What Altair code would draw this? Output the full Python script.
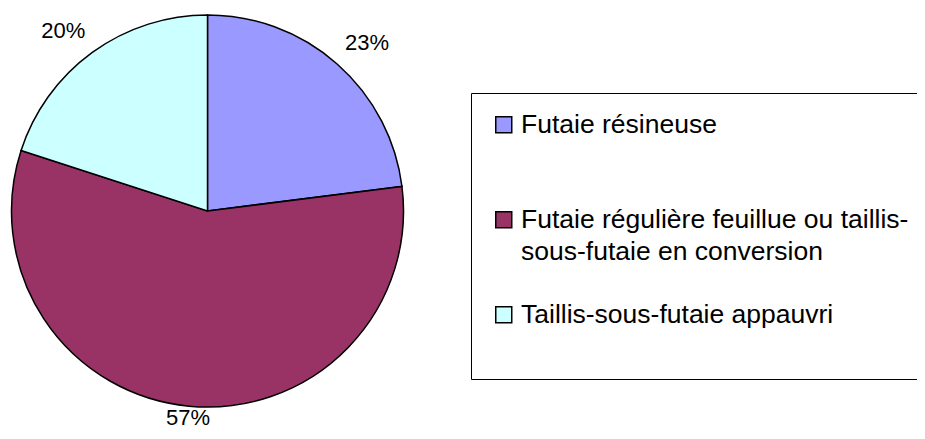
import altair as alt
import pandas as pd

categories = [
    "Futaie résineuse",
    "Futaie régulière feuillue ou taillis-sous-futaie en conversion",
    "Taillis-sous-futaie appauvri",
]
values = [23, 57, 20]
pct_labels = ["23%", "57%", "20%"]
colors = ["#9999FF", "#993366", "#CCFFFF"]
legend_lines = [
    ["Futaie résineuse", ""],
    ["Futaie régulière feuillue ou taillis-", "sous-futaie en conversion"],
    ["Taillis-sous-futaie appauvri", ""],
]
label_align = ["left", "center", "right"]
label_baseline = ["bottom", "middle", "bottom"]

df = pd.DataFrame({
    "Type": categories,
    "value": values,
    "label": pct_labels,
    "idx": list(range(len(categories))),
    "align": label_align,
    "baseline": label_baseline,
})

def js_list(lines):
    return "[" + ", ".join("'" + s + "'" for s in lines) + "]"

expr = js_list(legend_lines[-1])
for cat, lines in reversed(list(zip(categories[:-1], legend_lines[:-1]))):
    expr = f"datum.label === '{cat}' ? {js_list(lines)} : ({expr})"

FONT = "Liberation Sans"

arcs = alt.Chart(df).mark_arc(radius=196, stroke="black", strokeWidth=1.5).encode(
    theta=alt.Theta("value:Q", stack=True),
    order=alt.Order("idx:Q"),
    color=alt.Color(
        "Type:N",
        sort=categories,
        scale=alt.Scale(domain=categories, range=colors),
        legend=alt.Legend(
            title=None,
            orient="none",
            direction="vertical",
            legendX=463,
            legendY=85,
            symbolType="square",
            symbolSize=256,
            symbolStrokeColor="black",
            symbolStrokeWidth=1.5,
            symbolOffset=1,
            labelOffset=4,
            labelFont=FONT,
            labelFontSize=26.5,
            labelColor="black",
            labelLimit=2000,
            labelBaseline="middle",
            labelExpr=expr,
            rowPadding=36,
            padding=18.5,
            strokeColor="black",
            fillColor="white",
        ),
    ),
)

texts = alt.Chart(df).mark_text(
    radius=208,
    font=FONT,
    fontSize=22,
    color="black",
    align=alt.expr("datum.align"),
    baseline=alt.expr("datum.baseline"),
).encode(
    theta=alt.Theta("value:Q", stack=True),
    order=alt.Order("idx:Q"),
    detail="Type:N",
    text="label:N",
)

chart = (
    alt.layer(arcs, texts)
    .properties(
        width=399,
        height=406,
        padding={"left": 0, "top": 0, "right": 510, "bottom": 17},
        autosize=alt.AutoSizeParams(type="none"),
        background="white",
    )
    .configure_view(stroke=None)
    .configure(style={"guide-label": {"lineHeight": 32}})
)

chart.save("out.html", embed_options={"renderer": "svg", "actions": False})
